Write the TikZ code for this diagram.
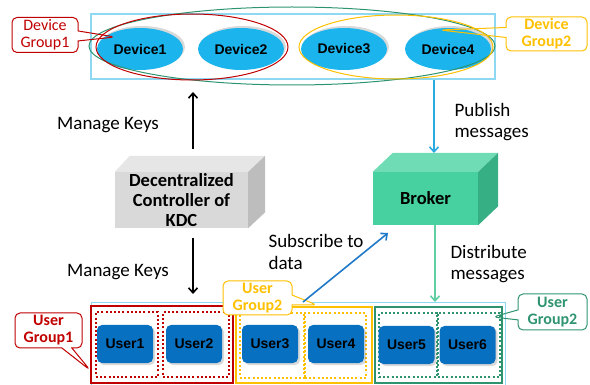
\documentclass[tikz,border=0pt]{standalone}
\usepackage{fontspec}
\setmainfont{Carlito}
\setsansfont{Liberation Sans}
\usetikzlibrary{shapes.geometric,shapes.callouts,shadows,arrows.meta}
\definecolor{devblue}{HTML}{1CB4EC}
\definecolor{usrblue}{HTML}{0870C0}
\definecolor{frameblue}{HTML}{8FD8F2}
\definecolor{grpred}{HTML}{C00000}
\definecolor{grpyellow}{HTML}{FFC000}
\definecolor{grpgreen}{HTML}{2E9470}
\definecolor{kdcfront}{HTML}{D9D9D9}
\definecolor{kdctop}{HTML}{E6E6E6}
\definecolor{kdcside}{HTML}{BDBDBD}
\definecolor{brkfront}{HTML}{47D1A0}
\definecolor{brktop}{HTML}{6FDCB6}
\definecolor{brkside}{HTML}{37AF85}
\definecolor{pubblue}{HTML}{29ABE2}
\definecolor{subblue}{HTML}{1F78C8}
\definecolor{distgreen}{HTML}{5FCFA3}
\begin{document}
\begin{tikzpicture}[x=1pt,y=-1pt,
device/.style={ellipse, fill=devblue, minimum width=86, minimum height=42, inner sep=0pt,
	font=\sffamily\bfseries\fontsize{14}{16}\selectfont,
	drop shadow={shadow xshift=2pt, shadow yshift=2pt, opacity=.3}},
user/.style={rectangle, rounded corners=5pt, fill=usrblue, minimum width=56, minimum height=38, inner sep=0pt,
	font=\sffamily\bfseries\fontsize{14}{16}\selectfont,
	drop shadow={shadow xshift=2pt, shadow yshift=-2pt, opacity=.3}},
note/.style={rectangle callout, draw, rounded corners=5pt, line width=1pt, align=center,
	inner sep=0pt, callout pointer width=10pt, font=\bfseries\fontsize{16}{17}\selectfont},
grpbox/.style={draw, line width=2pt, inner sep=0pt},
cell/.style={draw, line width=2pt, dash pattern=on 2pt off 2.2pt, inner sep=0pt,
	minimum height=64},
txt/.style={align=left, font=\fontsize{19}{21.5}\selectfont},
arr/.style={line width=1.6pt, -{Straight Barb[length=5pt,width=9pt]}}]
\useasboundingbox (0,0) rectangle (590,385);
% devices
\node[draw=frameblue, line width=1.2pt, minimum width=404, minimum height=65] (devices) at (293,46.5) {};
\node[device] (dev1) at (140,49) {Device1};
\node[device] (dev2) at (241,49) {Device2};
\node[device] (dev3) at (344,49) {Device3};
\node[device] (dev4) at (448,49) {Device4};
\node[ellipse, draw=grpgreen, line width=1pt, minimum width=406, minimum height=78] (allgrp) at (292,46) {};
\node[ellipse, draw=grpred, line width=1pt, minimum width=192, minimum height=66] (devgrp1) at (192,47) {};
\node[ellipse, draw=grpyellow, line width=1pt, minimum width=194, minimum height=64] (devgrp2) at (396,47) {};
\node[note, draw=grpred, text=grpred, font=\fontsize{16}{17}\selectfont, minimum width=66, minimum height=35,
	callout absolute pointer={(115,37)}] (devnote1) at (45,35) {Device\\Group1};
\node[note, draw=grpyellow, text=grpyellow, minimum width=81, minimum height=34,
	callout absolute pointer={(440,30)}] (devnote2) at (546.5,34) {Device\\Group2};
% KDC
\node[fill=kdcfront, minimum width=133, minimum height=56, inner sep=0pt, align=center,
	font=\bfseries\fontsize{18.5}{20}\selectfont] (kdc) at (181.5,200) {Decentralized\\Controller of\\KDC};
\fill[kdctop] (kdc.north west) -- ++(15,-16) -- ([shift={(17,-16)}]kdc.north east) -- (kdc.north east) -- cycle;
\fill[kdcside] (kdc.north east) -- ++(17,-16) -- ([shift={(17,-16)}]kdc.south east) -- (kdc.south east) -- cycle;
% broker
\node[fill=brkfront, minimum width=105, minimum height=53, inner sep=0pt,
	font=\bfseries\fontsize{18.5}{20}\selectfont] (broker) at (425.5,198.5) {Broker};
\fill[brktop] (broker.north west) -- ++(20,-19) -- ([shift={(20,-19)}]broker.north east) -- (broker.north east) -- cycle;
\fill[brkside] (broker.north east) -- ++(20,-19) -- ([shift={(20,-19)}]broker.south east) -- (broker.south east) -- cycle;
% users
\node[draw=frameblue, line width=1pt, minimum width=414, minimum height=90, inner sep=0pt] (users) at (298,348) {};
\node[grpbox, draw=grpred, minimum width=142, minimum height=77] (usrgrp1) at (162,344.5) {};
\node[grpbox, draw=grpyellow, minimum width=136, minimum height=76] (usrgrp2) at (304,345) {};
\node[grpbox, draw=grpgreen, minimum width=127, minimum height=76] (usrgrp3) at (438.5,345) {};
\node[cell, draw=grpred, minimum width=62] at (127,344.5) {};
\node[cell, draw=grpred, minimum width=66] at (196,344.5) {};
\node[cell, draw=grpyellow, minimum width=64] at (272,345.5) {};
\node[cell, draw=grpyellow, minimum width=61] at (335.5,345.5) {};
\node[cell, draw=grpgreen, minimum width=58] at (408,345) {};
\node[cell, draw=grpgreen, minimum width=62] at (469,345) {};
\node[user] (user1) at (125,344) {User1};
\node[user] (user2) at (194,344) {User2};
\node[user] (user3) at (270,344) {User3};
\node[user] (user4) at (336,344) {User4};
\node[user] (user5) at (406.5,345) {User5};
\node[user] (user6) at (467.5,345) {User6};
\node[note, draw=grpred, text=grpred, minimum width=67, minimum height=35,
	callout absolute pointer={(90,370)}] (usrnote1) at (48.5,330.5) {User\\Group1};
\node[note, draw=grpyellow, text=grpyellow, fill=white, minimum width=69, minimum height=34,
	callout absolute pointer={(317,305)}] (usrnote2) at (257.5,298) {User\\Group2};
\node[note, draw=grpgreen, text=grpgreen, minimum width=69, minimum height=36,
	callout absolute pointer={(493,317)}] (usrnote3) at (552.5,312) {User\\Group2};
% connectors
\coordinate (kdcup) at (193,149);
\coordinate (devlow) at (193,92);
\coordinate (kdcdown) at (193,238);
\coordinate (usrup) at (193,294);
\coordinate (brkin) at (434,153);
\coordinate (distend) at (435,302);
\coordinate (subfrom) at (303,302);
\coordinate (subto) at (388,233);
\draw[arr] (kdcup) -- (devlow);
\draw[arr] (kdcdown) -- (usrup);
\draw[arr, pubblue] (devices.south -| brkin) -- (brkin);
\draw[arr, distgreen] (broker.south -| distend) -- (distend);
\draw[arr, subblue] (subfrom) -- (subto);
\node[txt] (keys1) at (108,125) {Manage Keys};
\node[txt] (keys2) at (118,272) {Manage Keys};
\node[txt, anchor=west] (pub) at (451,122) {Publish\\messages};
\node[txt, anchor=west] (dist) at (447,264) {Distribute\\messages};
\node[txt, anchor=west] (sub) at (265,252) {Subscribe to\\data};
\end{tikzpicture}
\end{document}
